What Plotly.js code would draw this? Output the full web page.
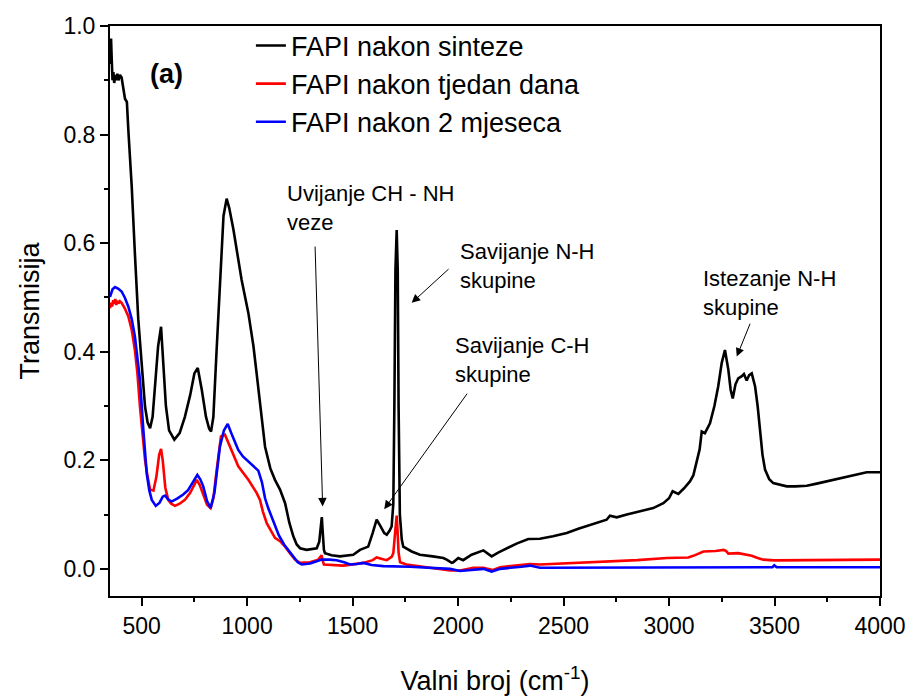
<!DOCTYPE html>
<html>
<head>
<meta charset="utf-8">
<script src="https://cdn.plot.ly/plotly-3.0.1.min.js"></script>
<style>html,body{margin:0;padding:0;background:#fff}#chart{width:912px;height:697px}</style>
</head>
<body>
<div id="chart"></div>
<script>
// Series names
const seriesNames = ["FAPI nakon sinteze", "FAPI nakon tjedan dana", "FAPI nakon 2 mjeseca"];

// FAPI nakon sinteze (black)
const blackX = [350,355,358,362,366,370,375,380,385,390,397,405,421,430,437,453,468,484,500,516,528,540,552,565,578,592,604,615,630,655,680,705,730,750,766,785,805,820,829,840,855,871,888,903,915,935,955,974,1006,1030,1045,1065,1085,1110,1132,1156,1180,1200,1219,1235,1251,1282,1330,1342,1350,1354,1358,1364,1369,1400,1440,1503,1535,1574,1595,1614,1630,1650,1662,1675,1685,1693,1698,1703,1709,1714,1718,1724,1733,1740,1780,1819,1880,1930,1946,1970,1977,2001,2024,2064,2120,2159,2190,2230,2280,2333,2388,2450,2515,2570,2625,2680,2704,2720,2752,2800,2831,2880,2925,2973,3000,3017,3044,3070,3099,3115,3131,3145,3155,3170,3194,3215,3233,3250,3265,3281,3292,3302,3315,3328,3345,3355,3368,3380,3392,3408,3420,3431,3443,3455,3475,3494,3558,3600,3653,3700,3747,3800,3842,3900,3937,4000];
const blackY = [0.93,0.977,0.94,0.90,0.915,0.895,0.91,0.90,0.912,0.90,0.91,0.905,0.866,0.86,0.808,0.704,0.581,0.46,0.379,0.299,0.27,0.259,0.28,0.34,0.41,0.446,0.37,0.30,0.255,0.238,0.25,0.28,0.32,0.36,0.370,0.33,0.28,0.258,0.253,0.28,0.40,0.532,0.65,0.682,0.665,0.625,0.581,0.532,0.471,0.41,0.36,0.29,0.225,0.185,0.164,0.146,0.121,0.085,0.06,0.045,0.038,0.035,0.038,0.05,0.09,0.0955,0.07,0.035,0.029,0.025,0.023,0.026,0.035,0.041,0.066,0.0905,0.08,0.066,0.063,0.07,0.078,0.12,0.30,0.55,0.624,0.55,0.30,0.10,0.054,0.041,0.032,0.026,0.023,0.02,0.017,0.011,0.012,0.02,0.016,0.026,0.034,0.023,0.03,0.038,0.047,0.055,0.0555,0.06,0.066,0.074,0.081,0.088,0.0905,0.098,0.095,0.10,0.103,0.107,0.112,0.121,0.13,0.143,0.138,0.148,0.161,0.172,0.195,0.22,0.253,0.25,0.268,0.30,0.336,0.38,0.403,0.367,0.33,0.314,0.34,0.351,0.355,0.359,0.347,0.357,0.360,0.336,0.30,0.256,0.21,0.183,0.165,0.158,0.152,0.152,0.153,0.157,0.161,0.166,0.170,0.175,0.178,0.178];

// FAPI nakon tjedan dana (red)
const redX = [350,355,360,365,370,375,380,385,390,397,405,420,437,453,468,480,492,504,516,528,540,556,570,583,592,600,612,626,640,658,680,705,730,750,761,775,795,810,827,840,855,876,895,920,958,1006,1045,1061,1075,1093,1132,1156,1180,1203,1227,1251,1298,1337,1348,1353,1358,1364,1456,1551,1595,1614,1640,1662,1685,1693,1700,1706,1709,1713,1718,1725,1756,1850,1914,1962,2009,2072,2120,2150,2165,2200,2280,2341,2388,2500,2600,2704,2850,2989,3020,3091,3115,3163,3220,3258,3270,3281,3328,3360,3392,3420,3447,3500,3573,3700,3850,4000];
const redY = [0.48,0.49,0.483,0.495,0.488,0.497,0.486,0.494,0.489,0.493,0.49,0.48,0.465,0.44,0.403,0.36,0.299,0.245,0.201,0.17,0.146,0.144,0.17,0.21,0.221,0.20,0.15,0.127,0.12,0.116,0.12,0.127,0.14,0.155,0.164,0.155,0.135,0.118,0.112,0.13,0.18,0.244,0.247,0.225,0.189,0.164,0.14,0.127,0.105,0.084,0.057,0.051,0.041,0.029,0.017,0.011,0.012,0.017,0.022,0.025,0.015,0.008,0.006,0.011,0.016,0.021,0.018,0.016,0.022,0.029,0.06,0.095,0.098,0.07,0.03,0.012,0.008,0.003,0.0,-0.003,-0.003,0.002,0.002,0.0,-0.002,0.003,0.006,0.009,0.008,0.010,0.012,0.0138,0.016,0.020,0.020,0.021,0.024,0.032,0.033,0.035,0.033,0.028,0.029,0.027,0.024,0.02,0.017,0.0157,0.0157,0.016,0.017,0.017];

// FAPI nakon 2 mjeseca (blue)
const blueX = [350,362,374,390,405,420,437,453,468,480,492,508,524,536,548,567,585,600,611,625,642,670,697,720,745,764,778,792,810,827,845,860,871,890,908,930,958,980,1006,1030,1053,1070,1085,1100,1125,1150,1175,1200,1219,1240,1259,1298,1330,1353,1390,1424,1460,1488,1520,1551,1590,1646,1772,1914,1962,2009,2060,2120,2159,2200,2300,2341,2388,2600,3091,3300,3490,3499,3510,4000];
const blueY = [0.501,0.515,0.519,0.516,0.511,0.50,0.483,0.46,0.428,0.39,0.348,0.256,0.176,0.145,0.127,0.116,0.122,0.133,0.135,0.128,0.124,0.13,0.137,0.145,0.16,0.173,0.165,0.152,0.125,0.112,0.14,0.19,0.225,0.255,0.267,0.245,0.219,0.207,0.198,0.19,0.181,0.16,0.13,0.112,0.085,0.062,0.045,0.032,0.023,0.012,0.008,0.01,0.014,0.017,0.017,0.016,0.012,0.008,0.009,0.011,0.007,0.005,0.004,0.002,0.0,-0.004,-0.002,0.0,-0.005,0.0,0.004,0.006,0.002,0.002,0.003,0.003,0.003,0.0065,0.003,0.003];

// Annotation labels
const noteTexts = ["Uvijanje CH - NH<br>veze", "Savijanje N-H<br>skupine", "Savijanje C-H<br>skupine", "Istezanje N-H<br>skupine"];
const notePos = [[1180,0.718],[2000,0.611],[1975,0.438],[3150,0.5625]];
// arrows: [headX, headY, tailX, tailY]
const arrows = [[1358,0.115,1322,0.5965],[1780,0.490,1962,0.5547],[1650,0.110,2048,0.3255],[3321,0.391,3387,0.4543]];

const FONT = "Arial, 'Liberation Sans', sans-serif";

const traces = [
  {x: blackX, y: blackY, name: seriesNames[0], mode: 'lines', line: {color: '#000000', width: 2.6}},
  {x: redX, y: redY, name: seriesNames[1], mode: 'lines', line: {color: '#ff0000', width: 2.6}},
  {x: blueX, y: blueY, name: seriesNames[2], mode: 'lines', line: {color: '#0000ff', width: 2.6}}
];

const annotations = [];
noteTexts.forEach((t, i) => {
  annotations.push({x: notePos[i][0], y: notePos[i][1], xref: 'x', yref: 'y', text: t, showarrow: false,
    xanchor: 'left', yanchor: 'top', align: 'left', font: {family: FONT, size: 22, color: '#000'}});
});
arrows.forEach(a => {
  annotations.push({x: a[0], y: a[1], ax: a[2], ay: a[3], xref: 'x', yref: 'y', axref: 'x', ayref: 'y',
    text: '', showarrow: true, arrowhead: 2, arrowsize: 1.7, arrowwidth: 1, arrowcolor: '#000', standoff: 0});
});
annotations.push({x: 618, y: 0.912, xref: 'x', yref: 'y', text: '<b>(a)</b>', showarrow: false,
  font: {family: FONT, size: 27, color: '#000'}});

const layout = {
  width: 912, height: 697,
  margin: {l: 110, r: 32, t: 26, b: 101},
  paper_bgcolor: '#fff', plot_bgcolor: '#fff',
  font: {family: FONT, color: '#000'},
  showlegend: true,
  legend: {x: 0.183, y: 1.008, xanchor: 'left', yanchor: 'top', bgcolor: 'rgba(0,0,0,0)',
    font: {family: FONT, size: 27, color: '#000'}, tracegroupgap: 0},
  xaxis: {
    range: [350, 4000], tick0: 0, dtick: 500, ticks: 'outside', ticklen: 8, tickwidth: 2,
    tickcolor: '#000', showline: true, linewidth: 2, linecolor: '#000', mirror: true,
    showgrid: false, zeroline: false, tickfont: {family: FONT, size: 23},
    minor: {dtick: 250, ticks: 'outside', ticklen: 4, tickwidth: 2, tickcolor: '#000', showgrid: false},
    title: {text: 'Valni broj (cm<sup>-1</sup>)', font: {family: FONT, size: 27}, standoff: 34}
  },
  yaxis: {
    range: [-0.05, 1.0], tick0: 0, dtick: 0.2, tickformat: '.1f', ticks: 'outside', ticklen: 8, tickwidth: 2,
    tickcolor: '#000', showline: true, linewidth: 2, linecolor: '#000', mirror: true,
    showgrid: false, zeroline: false, tickfont: {family: FONT, size: 23},
    minor: {dtick: 0.1, ticks: 'outside', ticklen: 4, tickwidth: 2, tickcolor: '#000', showgrid: false},
    title: {text: 'Transmisija', font: {family: FONT, size: 27}, standoff: 16}
  },
  annotations: annotations
};

Plotly.newPlot('chart', traces, layout, {displayModeBar: false, staticPlot: true});
</script>
</body>
</html>
